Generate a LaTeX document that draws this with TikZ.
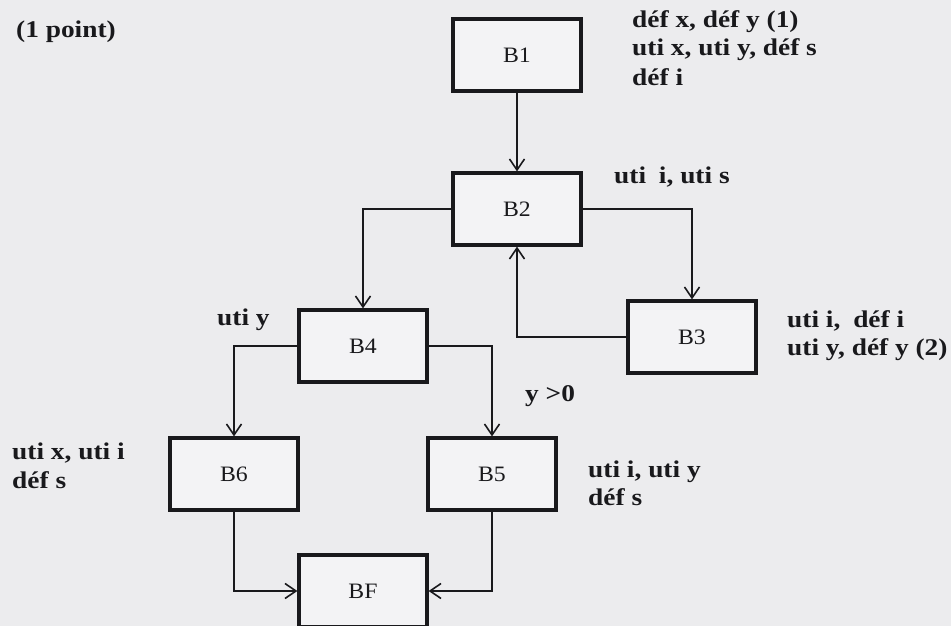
\documentclass[tikz,border=0pt]{standalone}
\usepackage{fontspec}
\setmainfont{Liberation Serif}
\newfontfamily\lblfont{Liberation Serif}[FakeStretch=1.14]
\newfontfamily\boxfont{Liberation Serif}[FakeStretch=1.08]
\usetikzlibrary{arrows.meta}
\definecolor{paper}{RGB}{236,236,238}
\definecolor{boxfill}{RGB}{243,243,245}
\definecolor{ink}{RGB}{25,25,28}
\begin{document}
\begin{tikzpicture}[x=1pt,y=-1pt,
  blk/.style={draw=ink, line width=3.2pt, fill=boxfill, minimum width=128pt, minimum height=72pt, inner sep=0pt, text=ink, font=\boxfont\fontsize{22}{22}\selectfont},
  lbl/.style={anchor=base west, inner sep=0pt, text=ink, font=\lblfont\bfseries\fontsize{24}{28}\selectfont},
  flow/.style={draw=ink, line width=1.6pt, -{Straight Barb[length=11pt,width=15pt,line width=1.6pt]}},
]
\fill[paper] (0,0) rectangle (951,626);
\useasboundingbox (0,0) rectangle (951,626);
\clip (0,0) rectangle (951,626);

% blocks
\node[blk] (B1) at (517,55) {B1};
\node[blk] (B2) at (517,209) {B2};
\node[blk] (B3) at (692,337) {B3};
\node[blk] (B4) at (363,346) {B4};
\node[blk] (B6) at (234,474) {B6};
\node[blk] (B5) at (492,474) {B5};
\node[blk] (BF) at (363,591) {BF};

% connectors
\draw[flow] (B1.south) -- (B2.north);
\draw[flow] (B2.east) -| (B3.north);
\draw[flow] (B3.west) -| (B2.south);
\draw[flow] (B2.west) -| (B4.north);
\draw[flow] (B4.east) -| (B5.north);
\draw[flow] (B4.west) -| (B6.north);
\draw[flow] (B6.south) |- (BF.west);
\draw[flow] (B5.south) |- (BF.east);

% labels
\node[lbl] (pt) at (16,38) {(1 point)};
\node[lbl] (b1a) at (632,28) {déf x, déf y (1)};
\node[lbl] (b1b) at (632,56) {uti x, uti y, déf s};
\node[lbl] (b1c) at (632,85) {déf i};
\node[lbl] (b2a) at (614,183) {uti\hspace{0.25em} i, uti s};
\node[lbl] (b4a) at (217,325) {uti y};
\node[lbl] (cnd) at (525,401) {y >0};
\node[lbl] (b3a) at (787,327) {uti i,\hspace{0.25em} déf i};
\node[lbl] (b3b) at (787,355) {uti y, déf y (2)};
\node[lbl] (b5a) at (588,477) {uti i, uti y};
\node[lbl] (b5b) at (588,505) {déf s};
\node[lbl] (b6a) at (12,459) {uti x, uti i};
\node[lbl] (b6b) at (12,488) {déf s};
\end{tikzpicture}
\end{document}
